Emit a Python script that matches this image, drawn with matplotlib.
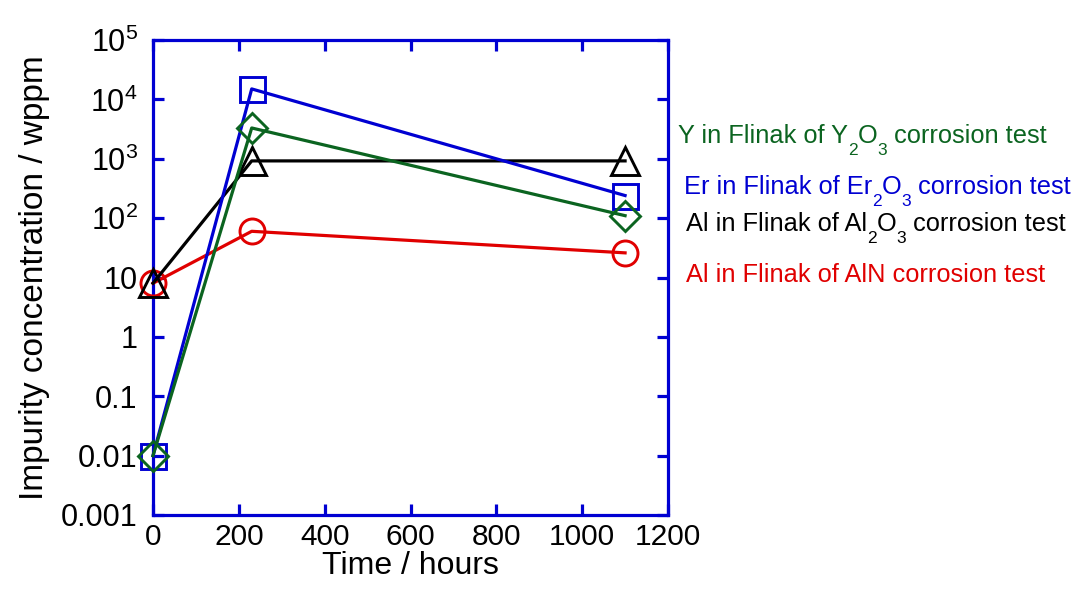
import matplotlib
matplotlib.use("Agg")
import matplotlib.pyplot as plt
from matplotlib.transforms import IdentityTransform

# Sampling times (hours)
time_hours = [0, 230, 1100]

# Impurity concentrations (wppm)
y_in_y2o3 = [0.01, 3300, 110]
er_in_er2o3 = [0.01, 15000, 240]
al_in_al2o3 = [8, 920, 920]
al_in_aln = [8, 60, 26]

x_ticks = [0, 200, 400, 600, 800, 1000, 1200]
y_ticks = [1e-3, 1e-2, 1e-1, 1, 10, 1e2, 1e3, 1e4, 1e5]
y_tick_labels = ["0.001", "0.01", "0.1", "1", "10",
                 r"10$^\mathregular{2}$", r"10$^\mathregular{3}$",
                 r"10$^\mathregular{4}$", r"10$^\mathregular{5}$"]

# Series captions as runs of (text, is_subscript)
captions = [
    ([("Y in Flinak of Y", False), ("2", True), ("O", False), ("3", True),
      (" corrosion test", False)], "#0b6420", 678, 143),
    ([("Er in Flinak of Er", False), ("2", True), ("O", False), ("3", True),
      (" corrosion test", False)], "#0000d2", 684, 194),
    ([("Al in Flinak of Al", False), ("2", True), ("O", False), ("3", True),
      (" corrosion test", False)], "#000000", 686, 231),
    ([("Al in Flinak of AlN corrosion test", False)], "#e00000", 686, 282),
]

FONT = "Liberation Sans"
plt.rcParams["font.family"] = [FONT, "DejaVu Sans"]

BLUE = "#0000d2"
W, H = 1082, 592
fig = plt.figure(figsize=(W / 100, H / 100), dpi=100)
ax = fig.add_axes([153 / W, 1 - 515 / H, (668 - 153) / W, (515 - 40) / H])

lw = 2.3
mew = 2.1
ax.plot(time_hours, al_in_aln, color="#e00000", lw=lw, marker="o", ms=18,
        mfc="none", mew=mew, clip_on=False, zorder=3)
ax.plot(time_hours, al_in_al2o3, color="#000000", lw=lw, marker="^", ms=20,
        mfc="none", mew=mew, clip_on=False, zorder=4)
ax.plot(time_hours, er_in_er2o3, color=BLUE, lw=lw, marker="s", ms=18,
        mfc="none", mew=mew, clip_on=False, zorder=5)
ax.plot(time_hours, y_in_y2o3, color="#0b6420", lw=lw, marker="D", ms=15,
        mfc="none", mew=mew, clip_on=False, zorder=6)

ax.set_yscale("log")
ax.set_xlim(0, 1200)
ax.set_ylim(1e-3, 1e5)
ax.set_xticks(x_ticks)
ax.set_xticklabels([str(v) for v in x_ticks])
ax.set_yticks(y_ticks)
ax.set_yticklabels(y_tick_labels)
ax.minorticks_off()

for sp in ax.spines.values():
    sp.set_color(BLUE)
    sp.set_linewidth(2.3)
ax.tick_params(axis="both", which="major", direction="in", length=8, width=2.3,
               color=BLUE, top=True, right=True, labelsize=22)
ax.tick_params(axis="x", pad=6, labelsize=21.5)
ax.tick_params(axis="y", pad=11)

ax.set_xlabel("Time / hours", fontsize=23, labelpad=0)
ax.set_ylabel("Impurity concentration / wppm", fontsize=24, labelpad=8)

# Captions: lay out runs left to right, subscripts smaller and dropped
renderer = fig.canvas.get_renderer()
for runs, color, px, baseline in captions:
    x = px
    for text, sub in runs:
        size = 12.5 if sub else 18.3
        y = H - baseline - (12 if sub else 0)
        t = fig.text(x, y, text, color=color, fontsize=size,
                     ha="left", va="baseline", transform=IdentityTransform())
        x = t.get_window_extent(renderer).x1

fig.savefig("out.png", dpi=100)
